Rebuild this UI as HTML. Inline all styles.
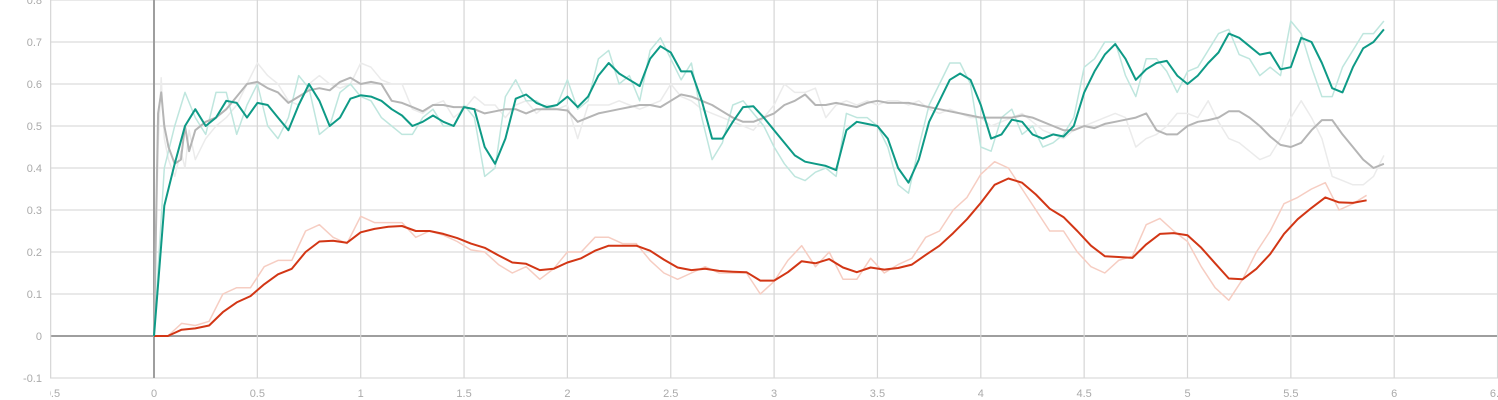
<!DOCTYPE html>
<html><head><meta charset="utf-8">
<style>
html,body{margin:0;padding:0;background:#fff;}
svg{display:block;font-family:"Liberation Sans",sans-serif;}
</style></head>
<body>
<svg id="chart" width="1498" height="400" viewBox="0 0 1498 400" xmlns="http://www.w3.org/2000/svg">
<defs><clipPath id="plotclip"><rect x="50" y="0" width="1448" height="400"/></clipPath></defs>
<g id="grid"></g>
<g id="series"></g>
<g id="labels" clip-path="url(#plotclip)"></g>
</svg>
<script>
const xTicks = [-0.5,0,0.5,1,1.5,2,2.5,3,3.5,4,4.5,5,5.5,6,6.5];
const xTickLabels = ["-0.5","0","0.5","1","1.5","2","2.5","3","3.5","4","4.5","5","5.5","6","6.5"];
const yTicks = [-0.1,0,0.1,0.2,0.3,0.4,0.5,0.6,0.7,0.8];
const yTickLabels = ["-0.1","0","0.1","0.2","0.3","0.4","0.5","0.6","0.7","0.8"];

const tealStep = 0.05;
const tealSmooth = [0,.31,.41,.50,.54,.50,.52,.56,.555,.52,
 .555,.55,.52,.49,.55,.60,.56,.50,.52,.565,
 .573,.57,.56,.54,.525,.50,.51,.525,.51,.50,
 .545,.54,.45,.41,.47,.565,.575,.555,.545,.55,
 .57,.545,.57,.62,.65,.625,.61,.595,.66,.69,
 .675,.63,.63,.56,.47,.47,.51,.545,.547,.52,
 .49,.46,.43,.415,.41,.405,.395,.49,.51,.505,
 .50,.47,.40,.365,.42,.51,.56,.61,.625,.61,
 .55,.47,.48,.515,.51,.48,.47,.48,.475,.50,
 .58,.63,.67,.695,.66,.61,.635,.65,.655,.62,
 .60,.62,.65,.675,.72,.71,.69,.67,.675,.635,
 .64,.71,.70,.65,.59,.58,.64,.685,.70,.73];
const tealRaw = [0,.40,.50,.58,.52,.48,.58,.58,.48,.55,
 .60,.50,.47,.52,.62,.59,.48,.50,.58,.60,
 .57,.56,.52,.50,.48,.48,.52,.54,.50,.50,
 .55,.52,.38,.40,.57,.61,.56,.56,.54,.55,
 .61,.54,.56,.66,.68,.60,.62,.56,.68,.71,
 .66,.61,.65,.52,.42,.46,.55,.56,.53,.50,
 .45,.41,.38,.37,.39,.40,.38,.53,.52,.52,
 .50,.45,.36,.34,.45,.55,.60,.65,.65,.60,
 .45,.44,.52,.54,.48,.50,.45,.46,.48,.52,
 .64,.66,.70,.70,.62,.57,.66,.66,.63,.58,
 .63,.64,.68,.72,.73,.67,.66,.62,.64,.62,
 .75,.72,.64,.57,.57,.64,.68,.72,.72,.75];

const grayEarlyX = [0,0.02,0.035,0.05,0.07,0.1,0.13,0.15,0.17,0.2];
const grayEarlySmooth = [0,.53,.58,.50,.45,.41,.42,.50,.44,.49];
const grayEarlyRaw = [0,.45,.615,.47,.42,.38,.44,.40,.49,.42];
const grayStart = 0.25, grayStep = 0.05;
const graySmooth = [.51,.52,.54,.57,.60,.605,.59,.58,.555,.57,
 .585,.59,.585,.605,.615,.60,.605,.60,.56,.555,
 .545,.535,.55,.55,.545,.545,.54,.53,.535,.54,
 .54,.53,.54,.54,.54,.537,.51,.52,.53,.535,
 .54,.545,.55,.55,.545,.56,.575,.57,.56,.55,
 .535,.52,.51,.51,.52,.53,.55,.56,.575,.55,
 .55,.555,.55,.545,.555,.56,.555,.555,.555,.55,
 .545,.54,.535,.53,.525,.52,.52,.52,.52,.525,
 .52,.51,.50,.49,.49,.50,.495,.505,.51,.515,
 .52,.53,.49,.48,.48,.50,.51,.514,.52,.535,
 .535,.52,.50,.475,.455,.45,.46,.49,.514,.514,
 .48,.45,.42,.40,.41];
const grayRaw = [.47,.50,.52,.55,.60,.65,.62,.60,.56,.55,
 .60,.62,.60,.59,.60,.65,.64,.61,.60,.60,
 .54,.53,.55,.56,.52,.54,.57,.55,.55,.52,
 .55,.56,.53,.55,.54,.55,.47,.55,.55,.55,
 .56,.55,.54,.55,.56,.60,.57,.56,.54,.53,
 .52,.51,.50,.49,.52,.55,.60,.58,.58,.59,
 .52,.55,.56,.55,.56,.55,.56,.56,.55,.56,
 .54,.53,.54,.53,.52,.52,.50,.51,.52,.53,
 .51,.49,.48,.47,.49,.50,.51,.52,.53,.52,
 .45,.47,.48,.50,.53,.53,.52,.56,.51,.47,
 .46,.44,.42,.43,.47,.52,.56,.52,.47,.38,
 .37,.36,.36,.38,.43];

const redStep = 1/15;
const redSmooth = [0,0,.015,.018,.025,.057,.08,.095,.123,.147,.16,.2,.225,.227,.222,
 .247,.255,.26,.262,.25,.25,.243,.233,.22,.21,.192,.175,.172,.157,.16,
 .175,.185,.203,.215,.215,.215,.203,.182,.163,.157,.16,.155,.153,.152,.132,
 .132,.152,.178,.173,.183,.163,.152,.163,.158,.162,.17,.193,.215,.245,.278,
 .317,.36,.375,.365,.337,.303,.283,.25,.215,.19,.188,.186,.218,.243,.245,
 .24,.21,.173,.137,.135,.16,.195,.243,.278,.305,.33,.318,.317,.323];
const redRaw = [0,0,.03,.025,.035,.1,.115,.115,.165,.18,.18,.25,.265,.235,.22,
 .285,.27,.27,.27,.235,.25,.24,.225,.205,.2,.17,.15,.165,.135,.16,
 .2,.2,.235,.235,.22,.22,.18,.15,.135,.15,.165,.15,.15,.15,.1,
 .13,.18,.215,.165,.2,.135,.135,.185,.15,.17,.185,.235,.25,.3,.33,
 .385,.415,.4,.35,.3,.25,.25,.2,.165,.15,.18,.19,.265,.28,.25,
 .225,.165,.115,.085,.135,.2,.25,.315,.33,.35,.365,.3,.315,.335];

const NS = "http://www.w3.org/2000/svg";
function xs(v){ return 154 + v*206.7; }
function ys(v){ return 336 - v*420; }
function mk(tag, attrs, parent){
  const e = document.createElementNS(NS, tag);
  for (const k in attrs) e.setAttribute(k, attrs[k]);
  parent.appendChild(e); return e;
}
const grid = document.getElementById('grid');
const labels = document.getElementById('labels');
const series = document.getElementById('series');

yTicks.forEach((t,i)=>{
  const l = mk('line',{x1:50,x2:1498,y1:ys(t),y2:ys(t),stroke:t===0?'#9e9e9e':'#e2e2e2','stroke-width':t===0?2:1.5},grid);
  
  
  const tx = mk('text',{x:42,y:ys(t)+4,'text-anchor':'end','font-size':11,fill:'#aaaaaa'},document.getElementById('chart'));
  tx.textContent = yTickLabels[i];
  
  
});
xTicks.forEach((t,i)=>{
  const l = mk('line',{x1:xs(t),x2:xs(t),y1:0,y2:378,stroke:t===0?'#9e9e9e':'#d6d6d6','stroke-width':t===0?2:1.2},grid);
  
  
  const tx = mk('text',{x:xs(t),y:397,'text-anchor':'middle','font-size':11,fill:'#aaaaaa'},labels);
  tx.textContent = xTickLabels[i];
  
  
});

function path(xv, yv, color, w, name){
  let d = '';
  for (let i=0;i<yv.length;i++){ d += (i?'L':'M') + xs(xv[i]).toFixed(1) + ',' + ys(yv[i]).toFixed(1); }
  const p = mk('path',{d:d,fill:'none',stroke:color,'stroke-width':w,'stroke-linejoin':'round'},series);
  
  
}
const tealX = tealSmooth.map((_,i)=>i*tealStep);
const redX = redSmooth.map((_,i)=>i*redStep);
const grayX = grayEarlyX.concat(graySmooth.map((_,i)=>grayStart+i*grayStep));

path(grayX, grayEarlyRaw.concat(grayRaw), '#ebebeb', 1.5, 'gray-raw-line');
path(tealX, tealRaw, '#bfe6de', 1.5, 'teal-raw-line');
path(redX, redRaw, '#f6cdc2', 1.5, 'red-raw-line');
path(grayX, grayEarlySmooth.concat(graySmooth), '#b5b5b5', 2, 'gray-smoothed-line');
path(redX, redSmooth, '#d23615', 2, 'red-smoothed-line');
path(tealX, tealSmooth, '#0e9a86', 2, 'teal-smoothed-line');
</script>
</body></html>
